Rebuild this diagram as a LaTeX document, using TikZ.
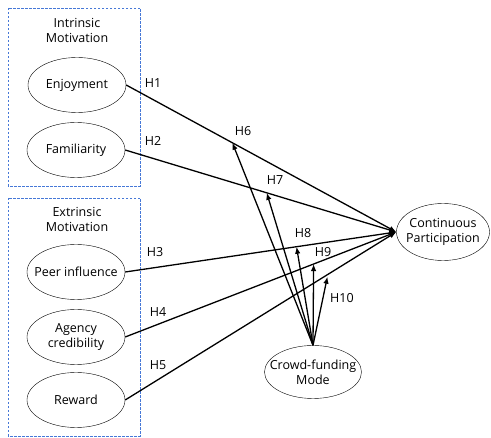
\documentclass[tikz,border=0pt]{standalone}
\usepackage{fontspec}
\setmainfont{Open Sans}
\usetikzlibrary{arrows.meta,shapes.geometric}
\definecolor{boxblue}{RGB}{70,120,215}
\tikzset{
  construct/.style={draw, ellipse, thin, minimum width=98pt, minimum height=55pt, inner xsep=-10pt, inner ysep=0pt, align=center, font=\fontsize{12.5}{15}\selectfont},
  group/.style={draw=boxblue, dashed, line width=0.9pt, dash pattern=on 2.5pt off 1.5pt},
  path/.style={line width=1.3pt, -{Latex[length=7pt,width=5.5pt]}},
  hlabel/.style={font=\fontsize{12.5}{15}\selectfont}
}
\begin{document}
\begin{tikzpicture}[x=1pt,y=1pt]
        \useasboundingbox (0,0) rectangle (491,-438);

        \draw [group] (8,-8) rectangle (140,-186);
        \draw [group] (8,-198) rectangle (140,-436);

        \node [align=center, hlabel] (intr) at (77,-30) {Intrinsic\\Motivation};
        \node [align=center, hlabel] (extr) at (77,-219) {Extrinsic\\Motivation};

        \node [construct] (enj) at (77,-85) {Enjoyment};
        \node [construct] (fam) at (76,-150) {Familiarity};
        \node [construct] (peer) at (76,-272) {Peer influence};
        \node [construct] (agency) at (76,-337) {Agency\\credibility};
        \node [construct] (rew) at (76,-400) {Reward};

        \node [construct, minimum width=93pt, minimum height=57pt] (cp) at (443,-232) {Continuous\\Participation};
        \node [construct, minimum width=97pt, minimum height=53pt] (mode) at (313,-372) {Crowd-funding\\Mode};

        % direct effects
        \draw [path] (enj.east) -- (cp.west) coordinate [pos=0.393] (m6);
        \draw [path] (fam.east) -- (cp.west) coordinate [pos=0.522] (m7);
        \draw [path] (peer.east) -- (cp.west) coordinate [pos=0.632] (m8);
        \draw [path] (agency.east) -- (cp.west) coordinate [pos=0.695] (m9);
        \draw [path] (rew.east) -- (cp.west) coordinate [pos=0.746] (m10);

        % moderating effects
        \draw [path] (mode.north) -- (m6);
        \draw [path] (mode.north) -- (m7);
        \draw [path] (mode.north) -- (m8);
        \draw [path] (mode.north) -- (m9);
        \draw [path] (mode.north) -- ([yshift=-2pt]m10);

        \node [hlabel] (h1) at (153,-83) {H1};
        \node [hlabel] (h2) at (153,-141) {H2};
        \node [hlabel] (h3) at (155,-252) {H3};
        \node [hlabel] (h4) at (158,-312) {H4};
        \node [hlabel] (h5) at (158,-365) {H5};
        \node [hlabel] (h6) at (243,-131) {H6};
        \node [hlabel] (h7) at (275,-180) {H7};
        \node [hlabel] (h8) at (303,-233) {H8};
        \node [hlabel] (h9) at (323,-252) {H9};
        \node [hlabel] (h10) at (342,-298) {H10};
      \end{tikzpicture}
\end{document}
